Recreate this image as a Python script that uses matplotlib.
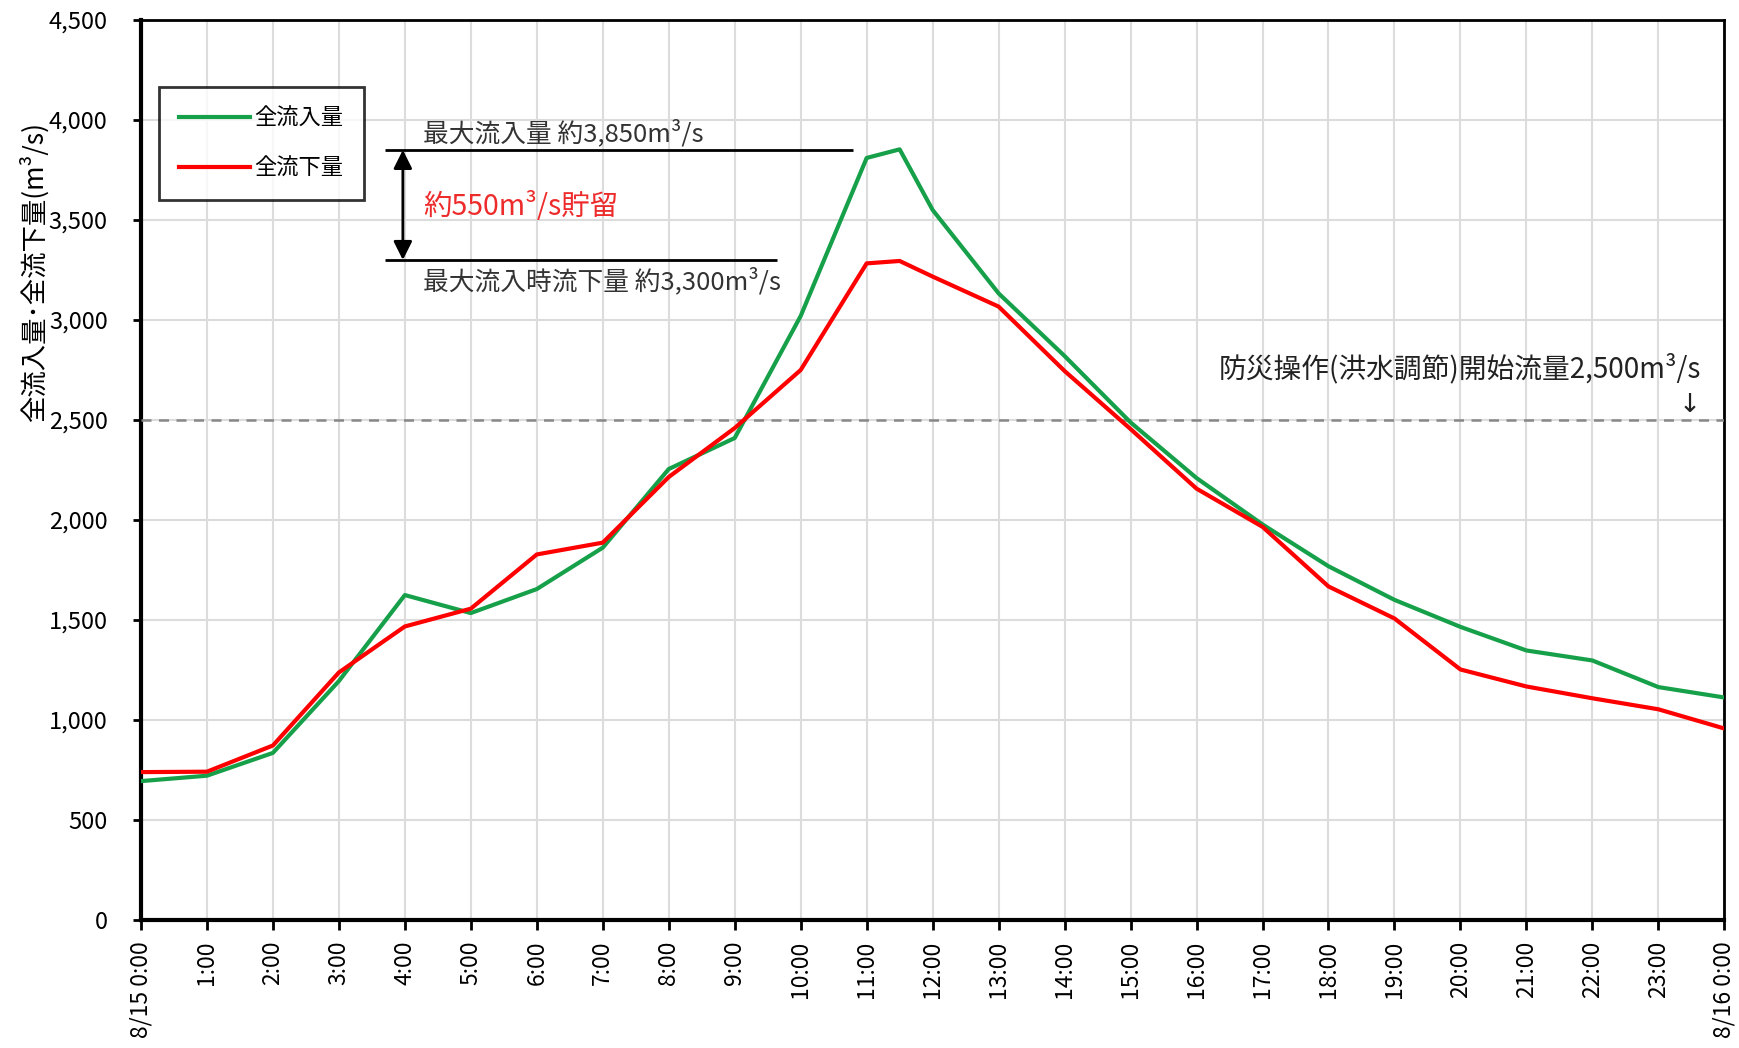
import matplotlib
matplotlib.use("Agg")
import matplotlib.pyplot as plt

plt.rcParams['font.family'] = ['Noto Sans CJK JP', 'DejaVu Sans']

# --------- DATA ---------
hours = [0, 1, 2, 3, 4, 5, 6, 7, 8, 9, 10, 11, 11.5, 12, 13, 14, 15, 16, 17, 18, 19, 20, 21, 22, 23, 24]
inflow = [695, 722, 836, 1195, 1625, 1535, 1655, 1862, 2255, 2410, 3020, 3810, 3853, 3550, 3133,
          2820, 2488, 2210, 1978, 1769, 1601, 1466, 1348, 1298, 1165, 1113]
outflow = [740, 742, 873, 1238, 1468, 1557, 1828, 1887, 2215, 2460, 2750, 3283, 3295, 3217, 3067,
           2745, 2455, 2157, 1966, 1668, 1508, 1253, 1168, 1109, 1054, 958]

tick_hours = list(range(25))
tick_labels = ["8/15 0:00"] + [f"{h}:00" for h in range(1, 24)] + ["8/16 0:00"]

peak_in = 3850
peak_out = 3300
start_flow = 2500

# --------- PLOT ---------
fig = plt.figure(figsize=(17.4, 10.48), dpi=100)
ax = fig.add_axes([0.081, 0.122, 0.910, 0.859])

ax.plot(hours, inflow, color='#17a04a', lw=3, label='全流入量', zorder=4)
ax.plot(hours, outflow, color='#ff0000', lw=3, label='全流下量', zorder=5)

ax.axhline(start_flow, color='#888888', lw=1.8, ls=(0, (4, 3)), zorder=3)

ax.set_xlim(0, 24)
ax.set_ylim(0, 4500)
ax.set_xticks(tick_hours)
ax.set_xticklabels(tick_labels, rotation=90, fontsize=16.5)
ax.set_yticks(range(0, 4501, 500))
ax.set_yticklabels([f"{v:,}" for v in range(0, 4501, 500)], fontsize=17)
ax.tick_params(axis='y', length=6, width=2, pad=18)
ax.tick_params(axis='x', length=7, width=2, pad=8)
ax.grid(True, color='#dcdcdc', lw=1.5, zorder=0)
ax.set_axisbelow(True)

for side in ['left', 'bottom']:
    ax.spines[side].set_linewidth(3)
for side in ['top', 'right']:
    ax.spines[side].set_linewidth(2)

ax.set_ylabel('全流入量･全流下量(m³/s)', fontsize=19)
ax.yaxis.set_label_coords(-0.058, 0.72)

leg = ax.legend(loc='upper left', bbox_to_anchor=(0.0114, 0.9256), borderaxespad=0,
                fontsize=16, frameon=True, fancybox=False, edgecolor='black',
                handlelength=3.2, handletextpad=0.2, labelspacing=1.2,
                borderpad=0.9)
leg.get_frame().set_linewidth(2)

# peak annotation
ax.hlines(peak_in, 3.7, 10.8, color='black', lw=2, zorder=3)
ax.hlines(peak_out, 3.7, 9.64, color='black', lw=2, zorder=3)
ax.annotate('', xy=(3.97, peak_in), xytext=(3.97, peak_out),
            arrowprops=dict(arrowstyle='<|-|>', color='black', lw=2, mutation_scale=28,
                            shrinkA=0, shrinkB=0))
ax.text(4.28, 3935, '最大流入量 約3,850m³/s', fontsize=18.5, va='center', ha='left', color='#333333')
ax.text(4.28, 3195, '最大流入時流下量 約3,300m³/s', fontsize=18.5, va='center', ha='left', color='#333333')
ax.text(4.28, 3565, '約550m³/s貯留', fontsize=20.5, va='center', ha='left', color='#ee2b2b')

ax.text(23.65, 2755, '防災操作(洪水調節)開始流量2,500m³/s', fontsize=20, va='center', ha='right',
        color='#222222')
ax.text(23.47, 2575, '↓', fontsize=19, va='center', ha='center', color='#222222',
        family=['DejaVu Sans'])

fig.savefig('out.png', dpi=100)
